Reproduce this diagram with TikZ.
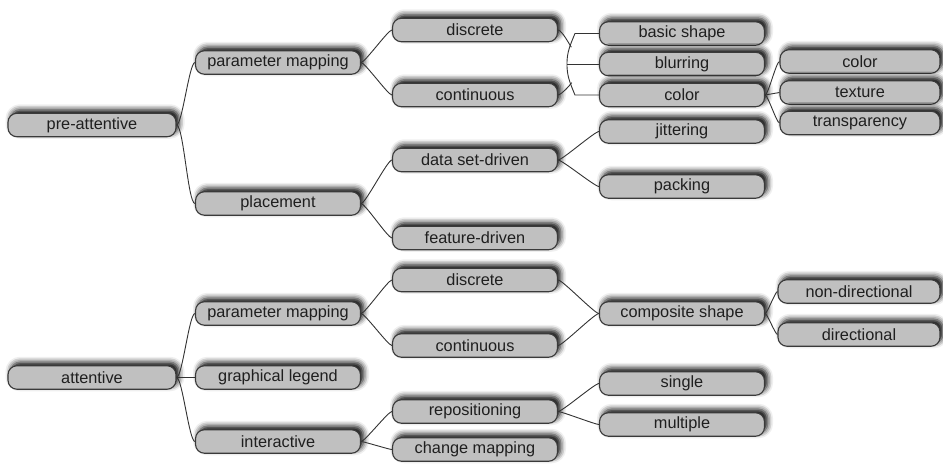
\documentclass[tikz,border=0pt]{standalone}
\usepackage{fontspec}
\setmainfont{Liberation Sans}
\usetikzlibrary{shadows.blur,calc}
\definecolor{boxfill}{HTML}{C0C0C0}
\definecolor{boxdraw}{HTML}{3A3A3A}
\definecolor{linec}{HTML}{333333}
\begin{document}
\begin{tikzpicture}[x=1pt,y=-1pt,
  box/.style={draw=boxdraw, fill=boxfill, line width=1.1pt, rounded corners=9pt,
    minimum width=165pt, minimum height=23.5pt, inner sep=0pt,
    font=\fontsize{16.3}{19}\selectfont, text=black!88,
    blur shadow={shadow xshift=3pt, shadow yshift=3.5pt, shadow blur radius=5.5pt, shadow opacity=100}},
  link/.style={draw=linec, line width=0.9pt},
  sc/.style={out=0, in=180, looseness=0.22}]
\useasboundingbox (0,0) rectangle (943,471);
% ---- pre-attentive tree
\node[box, minimum width=168pt] (pa) at (92,125) {pre-attentive};
\node[box] (pm1) at (278,62.5) {parameter mapping};
\node[box] (pl) at (278,203.5) {placement};
\node[box] (d1) at (475,30) {discrete};
\node[box] (c1) at (475,95) {continuous};
\node[box] (ds) at (475,160) {data set-driven};
\node[box] (fd) at (475,238) {feature-driven};
\node[box] (bs) at (682,33.5) {basic shape};
\node[box] (bl) at (682,64) {blurring};
\node[box] (co) at (682,95) {color};
\node[box] (ji) at (682,131.5) {jittering};
\node[box] (pk) at (682,186.5) {packing};
\node[box, minimum width=160pt] (co2) at (860,61.5) {color};
\node[box, minimum width=160pt] (tx) at (860,92.5) {texture};
\node[box, minimum width=160pt] (tr) at (860,123) {transparency};
% ---- attentive tree
\node[box, minimum width=168pt] (at) at (92,377.5) {attentive};
\node[box] (pm2) at (278,313.5) {parameter mapping};
\node[box] (gl) at (278,377.5) {graphical legend};
\node[box] (ia) at (278,441.5) {interactive};
\node[box] (d2) at (475,280) {discrete};
\node[box] (c2) at (475,345.5) {continuous};
\node[box] (rp) at (475,411.5) {repositioning};
\node[box] (cm) at (475,449.5) {change mapping};
\node[box] (cs) at (682,313.5) {composite shape};
\node[box] (si) at (682,383.5) {single};
\node[box] (mu) at (682,424.5) {multiple};
\node[box, minimum width=162pt] (nd) at (859,291.5) {non-directional};
\node[box, minimum width=162pt] (di) at (859,334.5) {directional};
% ---- connectors
\draw[link] (pa.east) to[sc] (pm1.west);
\draw[link] (pa.east) to[sc] (pl.west);
\draw[link] (pm1.east) to[sc] (d1.west);
\draw[link] (pm1.east) to[sc] (c1.west);
\draw[link] (pl.east) to[sc] (ds.west);
\draw[link] (pl.east) to[sc] (fd.west);
\draw[link] (ds.east) to[sc] (ji.west);
\draw[link] (ds.east) to[sc] (pk.west);
\draw[link] (co.east) to[sc] (co2.west);
\draw[link] (co.east) -- (tx.west);
\draw[link] (co.east) to[sc] (tr.west);
% bracket
\coordinate (tA) at ($(bs.west)+(-24,0)$);
\coordinate (tM) at ($(bl.west)+(-32,0)$);
\coordinate (tC) at ($(co.west)+(-24,0)$);
\draw[link] (bs.west) -- (tA) to[out=-112,in=90] (tM) to[out=-90,in=112] (tC) -- (co.west);
\draw[link] (bl.west) -- (tM);
\draw[link] (d1.east) to[out=-10,in=125,looseness=0.5] ($(tA)!0.45!(tM)$);
\draw[link] (c1.east) to[out=10,in=-125,looseness=0.5] ($(tM)!0.6!(tC)$);
% attentive connectors
\draw[link] (at.east) to[sc] (pm2.west);
\draw[link] (at.east) -- (gl.west);
\draw[link] (at.east) to[sc] (ia.west);
\draw[link] (pm2.east) to[sc] (d2.west);
\draw[link] (pm2.east) to[sc] (c2.west);
\draw[link] (d2.east) to[sc] (cs.west);
\draw[link] (c2.east) to[sc] (cs.west);
\draw[link] (cs.east) to[sc] (nd.west);
\draw[link] (cs.east) to[sc] (di.west);
\draw[link] (ia.east) to[sc] (rp.west);
\draw[link] (ia.east) to[sc] (cm.west);
\draw[link] (rp.east) to[sc] (si.west);
\draw[link] (rp.east) to[sc] (mu.west);
\end{tikzpicture}
\end{document}
